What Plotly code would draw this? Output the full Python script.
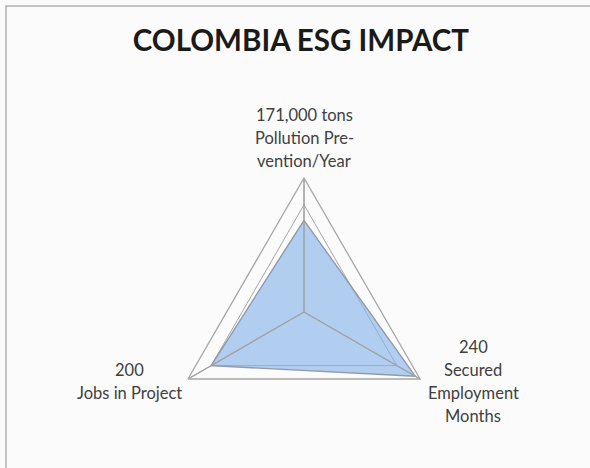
import plotly.graph_objects as go

categories = ["Pollution Prevention/Year", "Secured Employment Months", "Jobs in Project"]
values = [171, 240, 200]
axis_max = 250
grid_step = 200

# axis label text lines (as in the reference)
label_lines = [
    ["171,000 tons", "Pollution Pre-", "vention/Year"],
    ["240", "Secured", "Employment", "Months"],
    ["200", "Jobs in Project"],
]
# pixel anchor (center x, first-line center y) for each label block
label_anchor_px = [(304, 115), (473, 347), (129, 370)]
line_gap_px = 23

W, H = 590, 468

r_closed = values + values[:1]
theta_closed = categories + categories[:1]

fig = go.Figure()
fig.add_trace(go.Scatterpolar(
    r=r_closed, theta=theta_closed, mode="lines", fill="toself",
    fillcolor="rgba(135,178,232,0.64)",
    line=dict(color="rgba(140,150,165,0.95)", width=1.4),
    hoverinfo="skip", showlegend=False))

# spokes drawn above the fill, as in the reference
for cat in categories:
    fig.add_trace(go.Scatterpolar(
        r=[0, axis_max], theta=[cat, cat], mode="lines",
        line=dict(color="#a3a3a3", width=1.3),
        hoverinfo="skip", showlegend=False))

annotations = []
for lines, (cx, cy) in zip(label_lines, label_anchor_px):
    for i, txt in enumerate(lines):
        annotations.append(dict(
            text=txt, xref="paper", yref="paper",
            x=cx / W, y=1 - (cy + i * line_gap_px) / H,
            xanchor="center", yanchor="middle", showarrow=False,
            font=dict(family="Lato", size=16.5, color="#404040")))

fig.update_layout(
    width=W, height=H,
    margin=dict(l=0, r=0, t=0, b=0),
    paper_bgcolor="#fbfbfb",
    title=dict(text="<b>COLOMBIA ESG IMPACT</b>", x=0.51, xanchor="center",
               y=1 - 41 / H, yanchor="middle",
               font=dict(family="Lato", size=29.5, color="#1a1a1a")),
    font=dict(family="Lato", size=15, color="#404040"),
    annotations=annotations,
    polar=dict(
        domain=dict(x=[170 / W, 438 / W], y=[22 / H, 290 / H]),
        bgcolor="rgba(0,0,0,0)",
        gridshape="linear",
        radialaxis=dict(range=[0, axis_max], dtick=grid_step, showticklabels=False,
                        ticks="", showline=False, gridcolor="#a6a6a6", gridwidth=1.3),
        angularaxis=dict(direction="clockwise", rotation=90, showline=True,
                         linecolor="#a6a6a6", linewidth=1.3, gridcolor="#a6a6a6",
                         gridwidth=1.3, ticks="", showticklabels=False),
    ),
    shapes=[dict(type="rect", xref="paper", yref="paper", x0=6 / W, x1=1.01,
                 y0=-0.01, y1=1 - 6 / H, line=dict(color="#b0b0b0", width=1.5))],
)

fig.write_html("out.html")
